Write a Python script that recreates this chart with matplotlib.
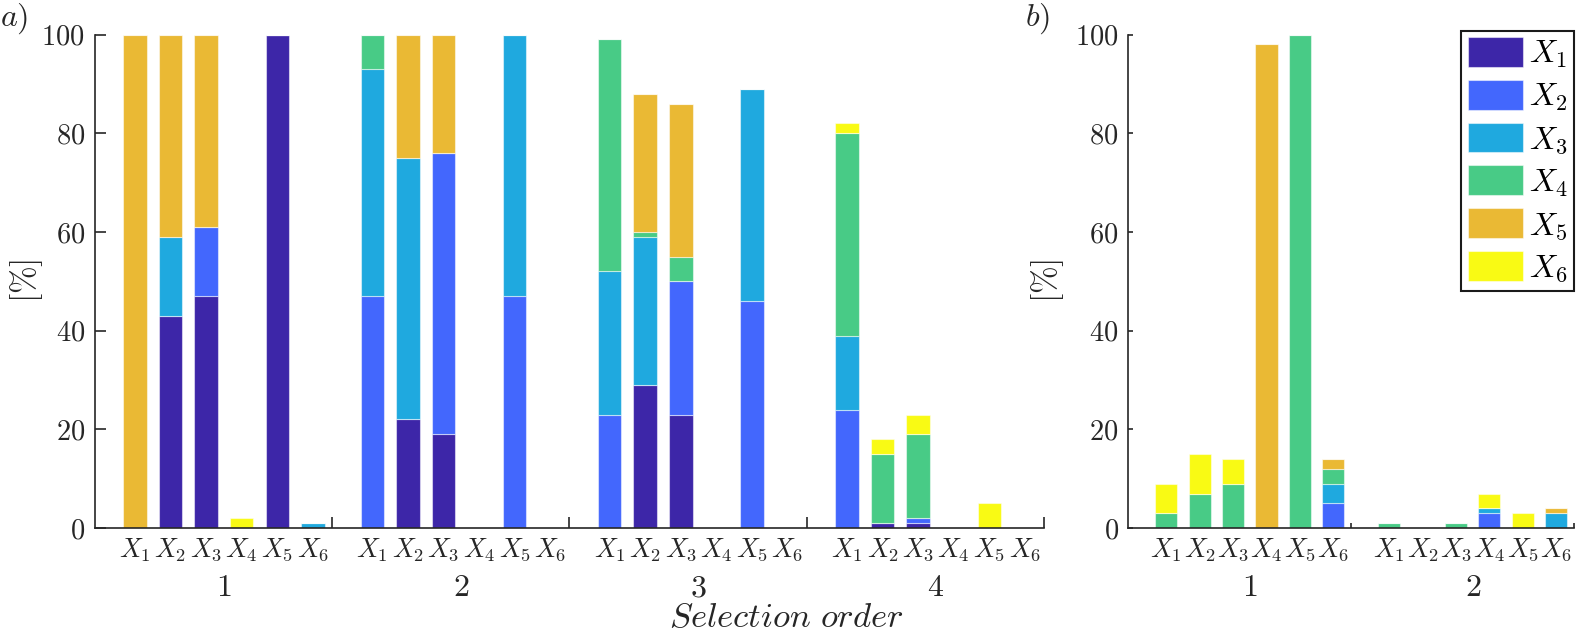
import numpy as np
import matplotlib.pyplot as plt
from matplotlib.patches import Patch

plt.rcParams['mathtext.fontset'] = 'cm'
plt.rcParams['font.family'] = 'serif'
plt.rcParams['font.serif'] = ['cmr10', 'DejaVu Serif']

# colours of the six variables (parula-like)
colors = ['#3D26A8', '#4367FD', '#1FA9DF', '#48CB86', '#EAB934', '#F9FA14']
var_labels = [r'$X_{%d}$' % i for i in range(1, 7)]
group_labels_a = ['1', '2', '3', '4']
group_labels_b = ['1', '2']

# panel a: share [%] of X1..X6 inside each bar, groups 1-4, bars X1..X6
a_x1 = [0, 43, 47, 0, 100, 0,   0, 22, 19, 0, 0, 0,   0, 29, 23, 0, 0, 0,   0, 1, 1, 0, 0, 0]
a_x2 = [0, 0, 14, 0, 0, 0,      47, 0, 57, 0, 47, 0,  23, 0, 27, 0, 46, 0,  24, 0, 1, 0, 0, 0]
a_x3 = [0, 16, 0, 0, 0, 1,      46, 53, 0, 0, 53, 0,  29, 30, 0, 0, 43, 0,  15, 0, 0, 0, 0, 0]
a_x4 = [0, 0, 0, 0, 0, 0,       7, 0, 0, 0, 0, 0,     47, 1, 5, 0, 0, 0,    41, 14, 17, 0, 0, 0]
a_x5 = [100, 41, 39, 0, 0, 0,   0, 25, 24, 0, 0, 0,   0, 28, 31, 0, 0, 0,   0, 0, 0, 0, 0, 0]
a_x6 = [0, 0, 0, 2, 0, 0,       0, 0, 0, 0, 0, 0,     0, 0, 0, 0, 0, 0,     2, 3, 4, 0, 5, 0]

# panel b: groups 1-2
b_x1 = [0, 0, 0, 0, 0, 0,     0, 0, 0, 0, 0, 0]
b_x2 = [0, 0, 0, 0, 0, 5,     0, 0, 0, 3, 0, 0]
b_x3 = [0, 0, 0, 0, 0, 4,     0, 0, 0, 1, 0, 3]
b_x4 = [3, 7, 9, 0, 100, 3,   1, 0, 1, 0, 0, 0]
b_x5 = [0, 0, 0, 98, 0, 2,    0, 0, 0, 0, 0, 1]
b_x6 = [6, 8, 5, 0, 0, 0,     0, 0, 0, 3, 3, 0]

GW = 6.67      # width of one group in bar steps
OFF = 1.13     # centre of first bar inside a group
BW = 0.66      # bar width
dark = '#262626'


def draw_panel(ax, parts, groups, ticklen):
    ng = len(groups)
    x = np.array([g * GW + OFF + k for g in range(ng) for k in range(6)])
    bottom = np.zeros(len(x))
    for vals, col in zip(parts, colors):
        vals = np.array(vals, dtype=float)
        ax.bar(x, vals, BW, bottom=bottom, color=col,
               edgecolor=(1, 1, 1, 0.5), linewidth=0.8)
        bottom += vals
    ax.set_xlim(0, ng * GW)
    ax.set_ylim(0, 100)
    ax.set_xticks(x)
    ax.set_xticklabels(var_labels * ng, fontsize=19, color=dark)
    ax.tick_params(axis='x', which='major', length=0, pad=6)
    ax.set_xticks([g * GW for g in range(1, ng + 1)], minor=True)
    ax.tick_params(axis='x', which='minor', direction='in', length=ticklen,
                   width=1.2, color=dark)
    yt = [0, 20, 40, 60, 80, 100]
    ax.set_yticks(yt)
    ax.set_yticklabels(['$%d$' % v for v in yt], fontsize=20.5, color=dark)
    ax.tick_params(axis='y', direction='in', length=ticklen, width=1.2,
                   color=dark, pad=7)
    for s in ['top', 'right']:
        ax.spines[s].set_visible(False)
    for s in ['left', 'bottom']:
        ax.spines[s].set_linewidth(1.2)
        ax.spines[s].set_color(dark)
    for g, lab in enumerate(groups):
        ax.text(g * GW + OFF + 2.5, -0.123, '$%s$' % lab, fontsize=23,
                ha='center', va='center', color=dark,
                transform=ax.get_xaxis_transform())
    ax.set_ylabel(r'$[\%]$', fontsize=24, color=dark)


fig = plt.figure(figsize=(15.78, 6.37), dpi=100)
axA = fig.add_axes([0.0600, 0.171, 0.6017, 0.7748])
axB = fig.add_axes([0.7151, 0.171, 0.2826, 0.7748])

draw_panel(axA, [a_x1, a_x2, a_x3, a_x4, a_x5, a_x6], group_labels_a, 8)
draw_panel(axB, [b_x1, b_x2, b_x3, b_x4, b_x5, b_x6], group_labels_b, 3.8)
axA.yaxis.set_label_coords(-0.0527, 0.5)
axB.yaxis.set_label_coords(-0.140, 0.5)

handles = [Patch(facecolor=c, edgecolor=(1, 1, 1, 0.5), linewidth=0.8) for c in colors]
leg = axB.legend(handles, var_labels, loc='upper right', bbox_to_anchor=(1.0, 1.008),
                 borderaxespad=0, fontsize=23, handlelength=1.72, handleheight=1.06,
                 handletextpad=0.2, labelspacing=0.3, borderpad=0.2,
                 fancybox=False, framealpha=1)
leg.get_frame().set_edgecolor('#1a1a1a')
leg.get_frame().set_linewidth(1.5)

fig.text(0.0, 0.970, '$a)$', fontsize=23, ha='left', va='center', color=dark)
fig.text(0.6496, 0.970, '$b)$', fontsize=23, ha='left', va='center', color=dark)
fig.text(786 / 1578, 0.004, r'$Selection\ order$', fontsize=25,
         ha='center', va='bottom', color=dark)

fig.savefig('out.png', dpi=100)
